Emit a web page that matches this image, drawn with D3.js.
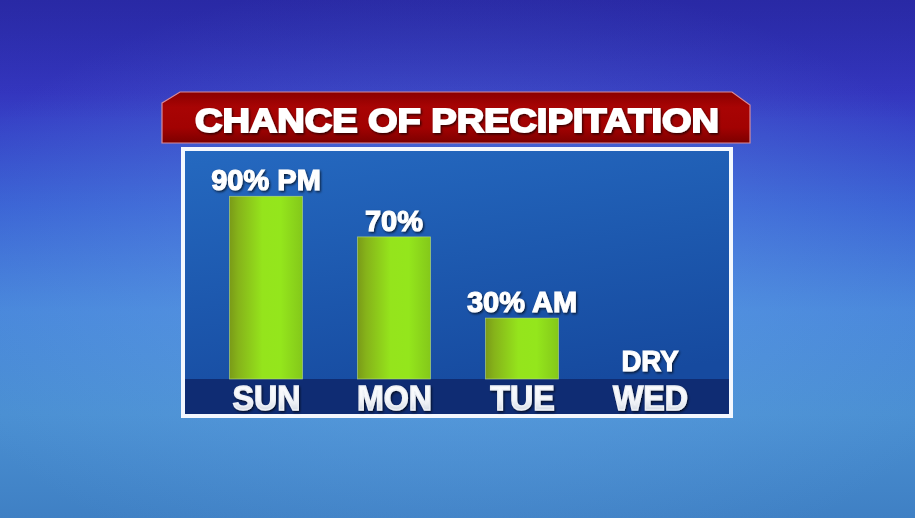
<!DOCTYPE html>
<html>
<head>
<meta charset="utf-8">
<script src="https://cdn.jsdelivr.net/npm/d3@7"></script>
<style>
  html, body { margin: 0; padding: 0; background: #2f4fc0; }
  svg { display: block; }
</style>
</head>
<body>
<svg id="chart" width="915" height="518"></svg>
<script>
// ---- data ----
const titleText = "CHANCE OF PRECIPITATION";
const days = ["SUN", "MON", "TUE", "WED"];
const chance = [90, 70, 30, 0];
const valueLabels = ["90% PM", "70%", "30% AM", "DRY"];

const W = 915, H = 518;
const svg = d3.select("#chart");
const defs = svg.append("defs");

// background gradients
const bg = defs.append("linearGradient").attr("id", "bg").attr("x1", 0).attr("y1", 0).attr("x2", 0).attr("y2", 1);
[[0, "#2c30b0"], [0.18, "#3538c2"], [0.4, "#3a62d4"], [0.6, "#4886da"], [0.8, "#4a8fd2"], [1, "#3f80c4"]]
  .forEach(([o, c]) => bg.append("stop").attr("offset", o).attr("stop-color", c));
const glow = defs.append("radialGradient").attr("id", "glow").attr("cx", 0.5).attr("cy", 0.55).attr("r", 0.6);
glow.append("stop").attr("offset", 0).attr("stop-color", "#6fb0f0").attr("stop-opacity", 0.4);
glow.append("stop").attr("offset", 1).attr("stop-color", "#6fb0f0").attr("stop-opacity", 0);
const topDark = defs.append("linearGradient").attr("id", "topDark").attr("x1", 0).attr("y1", 0).attr("x2", 0).attr("y2", 1);
topDark.append("stop").attr("offset", 0).attr("stop-color", "#241c90").attr("stop-opacity", 0.35);
topDark.append("stop").attr("offset", 1).attr("stop-color", "#241c90").attr("stop-opacity", 0);

// panel gradient
const pg = defs.append("linearGradient").attr("id", "panel").attr("x1", 0).attr("y1", 0).attr("x2", 0.3).attr("y2", 1);
pg.append("stop").attr("offset", 0).attr("stop-color", "#2569c0");
pg.append("stop").attr("offset", 1).attr("stop-color", "#164a9f");

// banner gradient
const rg = defs.append("linearGradient").attr("id", "banner").attr("x1", 0).attr("y1", 0).attr("x2", 0).attr("y2", 1);
[[0, "#8a0000"], [0.3, "#a80404"], [0.7, "#a20202"], [1, "#7c0000"]]
  .forEach(([o, c]) => rg.append("stop").attr("offset", o).attr("stop-color", c));

// bar gradient
const bgBar = defs.append("linearGradient").attr("id", "bar").attr("x1", 0).attr("y1", 0).attr("x2", 1).attr("y2", 0);
[[0, "#7a9a18"], [0.12, "#86b31a"], [0.45, "#95e41c"], [0.7, "#94e61c"], [1, "#84c81a"]]
  .forEach(([o, c]) => bgBar.append("stop").attr("offset", o).attr("stop-color", c));

// day label gradient
const tg = defs.append("linearGradient").attr("id", "dayText").attr("x1", 0).attr("y1", 0).attr("x2", 0).attr("y2", 1);
tg.append("stop").attr("offset", 0).attr("stop-color", "#ffffff");
tg.append("stop").attr("offset", 0.55).attr("stop-color", "#f4f6fa");
tg.append("stop").attr("offset", 1).attr("stop-color", "#c2cad8");

// shadow filter
const f = defs.append("filter").attr("id", "shadow").attr("x", "-10%").attr("y", "-30%").attr("width", "120%").attr("height", "160%");
f.append("feDropShadow").attr("dx", 1.2).attr("dy", 1.5).attr("stdDeviation", 1).attr("flood-color", "#000").attr("flood-opacity", 0.7);

// background
svg.append("rect").attr("width", W).attr("height", H).attr("fill", "url(#bg)");
svg.append("rect").attr("width", W).attr("height", H).attr("fill", "url(#glow)");
svg.append("rect").attr("width", W).attr("height", 120).attr("fill", "url(#topDark)");

// panel
const panel = { x: 183, y: 149, w: 548, h: 267 };
svg.append("rect")
  .attr("x", panel.x).attr("y", panel.y).attr("width", panel.w).attr("height", panel.h)
  .attr("fill", "url(#panel)").attr("stroke", "#f4f8ff").attr("stroke-width", 4);

// band
const bandTop = 379, bandBottom = 414;
svg.append("rect")
  .attr("x", panel.x + 2).attr("y", bandTop).attr("width", panel.w - 4).attr("height", bandBottom - bandTop)
  .attr("fill", "#0f2c73");

// banner
const banner = d3.path();
banner.moveTo(162, 103); banner.lineTo(180, 92); banner.lineTo(732, 92);
banner.lineTo(750, 105); banner.lineTo(750, 143); banner.lineTo(162, 143); banner.closePath();
svg.append("path").attr("d", banner.toString())
  .attr("fill", "url(#banner)").attr("stroke", "#d88a9a").attr("stroke-width", 1.2);

svg.append("text")
  .attr("x", 457).attr("y", 131.5)
  .attr("text-anchor", "middle")
  .attr("textLength", 524).attr("lengthAdjust", "spacingAndGlyphs")
  .attr("font-family", "Liberation Sans, Arial, sans-serif")
  .attr("font-weight", "bold").attr("font-size", 33)
  .attr("fill", "#ffffff").attr("stroke", "#ffffff").attr("stroke-width", 1.8)
  .attr("filter", "url(#shadow)")
  .text(titleText);

// scales
const x = d3.scalePoint().domain(days).range([266, 650]);
const y = d3.scaleLinear().domain([0, 100]).range([bandTop, bandTop - 203]);
const barW = 73;

const data = days.map((d, i) => ({ day: d, v: chance[i], label: valueLabels[i] }));

// bars
svg.append("g").selectAll("rect").data(data.filter(d => d.v > 0)).join("rect")
  .attr("x", d => x(d.day) - barW / 2)
  .attr("y", d => y(d.v))
  .attr("width", barW)
  .attr("height", d => y(0) - y(d.v))
  .attr("fill", "url(#bar)")
  .attr("stroke", "#bfe08a").attr("stroke-width", 0.8).attr("stroke-opacity", 0.7);

// value labels
svg.append("g").selectAll("text").data(data).join("text")
  .attr("transform", d => `translate(${x(d.day)},${y(d.v) - (d.v > 0 ? 6 : 8)}) scale(${d.v > 0 ? 1 : 0.92},1)`)
  .attr("text-anchor", "middle")
  .attr("font-family", "Liberation Sans, Arial, sans-serif")
  .attr("font-weight", "bold")
  .attr("font-size", d => d.v > 0 ? 29 : 30)
  .attr("fill", "#ffffff").attr("stroke", "#ffffff").attr("stroke-width", 1.1)
  .attr("filter", "url(#shadow)")
  .text(d => d.label);

// day labels (axis)
const axis = d3.axisBottom(x).tickSize(0).tickPadding(0);
const gAxis = svg.append("g").attr("transform", `translate(0,${bandTop})`).call(axis);
gAxis.select(".domain").remove();
gAxis.selectAll(".tick text")
  .attr("y", 0).attr("dy", 0)
  .attr("transform", "translate(0,31) scale(0.92,1)")
  .attr("font-family", "Liberation Sans, Arial, sans-serif")
  .attr("font-weight", "bold").attr("font-size", 35)
  .attr("fill", "url(#dayText)").attr("stroke", "#eef1f6").attr("stroke-width", 1.4)
  .attr("filter", "url(#shadow)");
</script>
</body>
</html>
